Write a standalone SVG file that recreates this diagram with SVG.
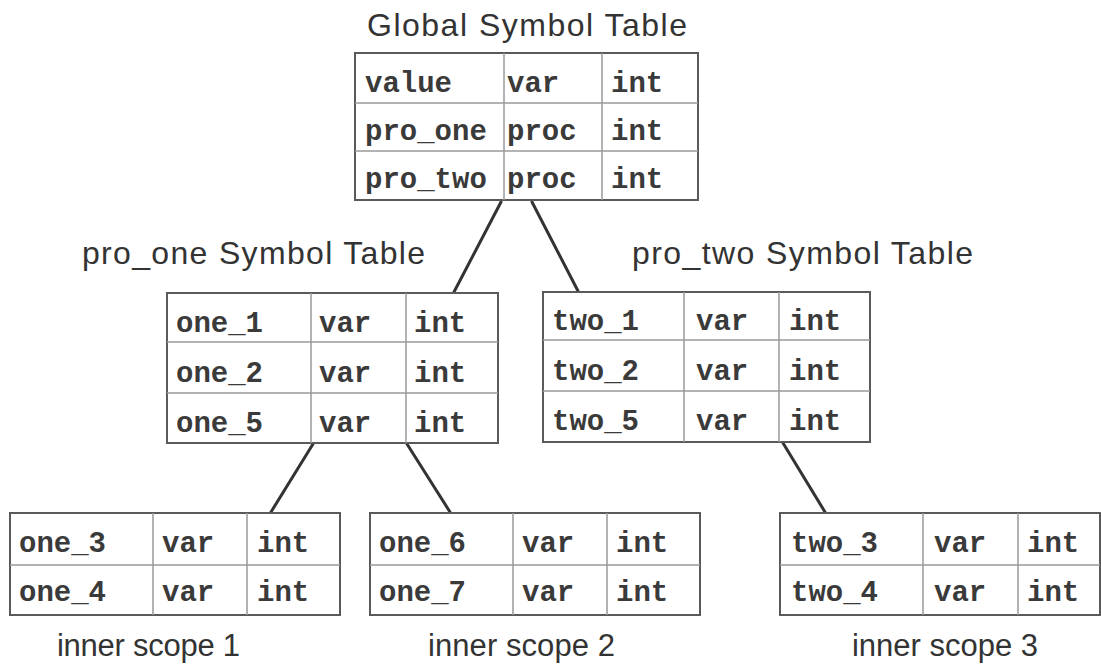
<svg xmlns="http://www.w3.org/2000/svg" width="1101" height="666" viewBox="0 0 1101 666">
<style>
.bg{fill:#ffffff}
.box{fill:#ffffff;stroke:#5a5a5a;stroke-width:2}
.grid{stroke:#9a9a9a;stroke-width:1.5;fill:none}
.cell{font-family:"Courier New","Liberation Mono",monospace;font-weight:bold;font-size:29px;fill:#3a3a3a}
.title{font-family:"Liberation Sans",Arial,Helvetica,sans-serif;font-size:32px;fill:#333333}
.cap{font-family:"Liberation Sans",Arial,Helvetica,sans-serif;font-size:31px;fill:#333333}
.link{stroke:#333333;stroke-width:3;fill:none;stroke-linecap:round}
</style>
<rect class="bg" x="0" y="0" width="1101" height="666"/>

<g id="connectors">
<line class="link" x1="501" y1="202" x2="454" y2="292"/>
<line class="link" x1="532" y1="202" x2="578" y2="291"/>
<line class="link" x1="313" y1="444" x2="271" y2="512"/>
<line class="link" x1="407" y1="444" x2="450" y2="512"/>
<line class="link" x1="783" y1="443" x2="825" y2="512"/>
</g>

<g id="global">
<text class="title" x="367" y="36" textLength="320" lengthAdjust="spacing">Global Symbol Table</text>
<rect class="box" x="355" y="53" width="343" height="147"/>
<path class="grid" d="M504 53V200M602 53V200M355 103H698M355 151H698"/>
<text class="cell" x="365" y="92">value</text>
<text class="cell" x="507" y="92">var</text>
<text class="cell" x="611" y="92">int</text>
<text class="cell" x="365" y="140">pro_one</text>
<text class="cell" x="507" y="140">proc</text>
<text class="cell" x="611" y="140">int</text>
<text class="cell" x="365" y="188">pro_two</text>
<text class="cell" x="507" y="188">proc</text>
<text class="cell" x="611" y="188">int</text>
</g>

<g id="pro_one">
<text class="title" x="82" y="264" textLength="343" lengthAdjust="spacing">pro_one Symbol Table</text>
<rect class="box" x="167" y="293" width="331" height="150"/>
<path class="grid" d="M311 293V443M406 293V443M167 342H498M167 393H498"/>
<text class="cell" x="176" y="332">one_1</text>
<text class="cell" x="319" y="332">var</text>
<text class="cell" x="414" y="332">int</text>
<text class="cell" x="176" y="382">one_2</text>
<text class="cell" x="319" y="382">var</text>
<text class="cell" x="414" y="382">int</text>
<text class="cell" x="176" y="432">one_5</text>
<text class="cell" x="319" y="432">var</text>
<text class="cell" x="414" y="432">int</text>
</g>

<g id="pro_two">
<text class="title" x="632" y="264" textLength="341" lengthAdjust="spacing">pro_two Symbol Table</text>
<rect class="box" x="543" y="292" width="327" height="150"/>
<path class="grid" d="M684 292V442M779 292V442M543 340H870M543 391H870"/>
<text class="cell" x="552" y="330">two_1</text>
<text class="cell" x="696" y="330">var</text>
<text class="cell" x="789" y="330">int</text>
<text class="cell" x="552" y="380">two_2</text>
<text class="cell" x="696" y="380">var</text>
<text class="cell" x="789" y="380">int</text>
<text class="cell" x="552" y="430">two_5</text>
<text class="cell" x="696" y="430">var</text>
<text class="cell" x="789" y="430">int</text>
</g>

<g id="inner1">
<rect class="box" x="10" y="513" width="330" height="102"/>
<path class="grid" d="M153 513V615M247 513V615M10 565H340"/>
<text class="cell" x="19" y="552">one_3</text>
<text class="cell" x="162" y="552">var</text>
<text class="cell" x="257" y="552">int</text>
<text class="cell" x="19" y="601">one_4</text>
<text class="cell" x="162" y="601">var</text>
<text class="cell" x="257" y="601">int</text>
<text class="cap" x="57" y="656" textLength="183" lengthAdjust="spacing">inner scope 1</text>
</g>

<g id="inner2">
<rect class="box" x="370" y="513" width="330" height="102"/>
<path class="grid" d="M513 513V615M607 513V615M370 565H700"/>
<text class="cell" x="379" y="552">one_6</text>
<text class="cell" x="522" y="552">var</text>
<text class="cell" x="616" y="552">int</text>
<text class="cell" x="379" y="601">one_7</text>
<text class="cell" x="522" y="601">var</text>
<text class="cell" x="616" y="601">int</text>
<text class="cap" x="428" y="656" textLength="187" lengthAdjust="spacing">inner scope 2</text>
</g>

<g id="inner3">
<rect class="box" x="780" y="513" width="320" height="102"/>
<path class="grid" d="M923 513V615M1018 513V615M780 565H1100"/>
<text class="cell" x="791" y="552">two_3</text>
<text class="cell" x="934" y="552">var</text>
<text class="cell" x="1027" y="552">int</text>
<text class="cell" x="791" y="601">two_4</text>
<text class="cell" x="934" y="601">var</text>
<text class="cell" x="1027" y="601">int</text>
<text class="cap" x="852" y="656" textLength="186" lengthAdjust="spacing">inner scope 3</text>
</g>
</svg>
